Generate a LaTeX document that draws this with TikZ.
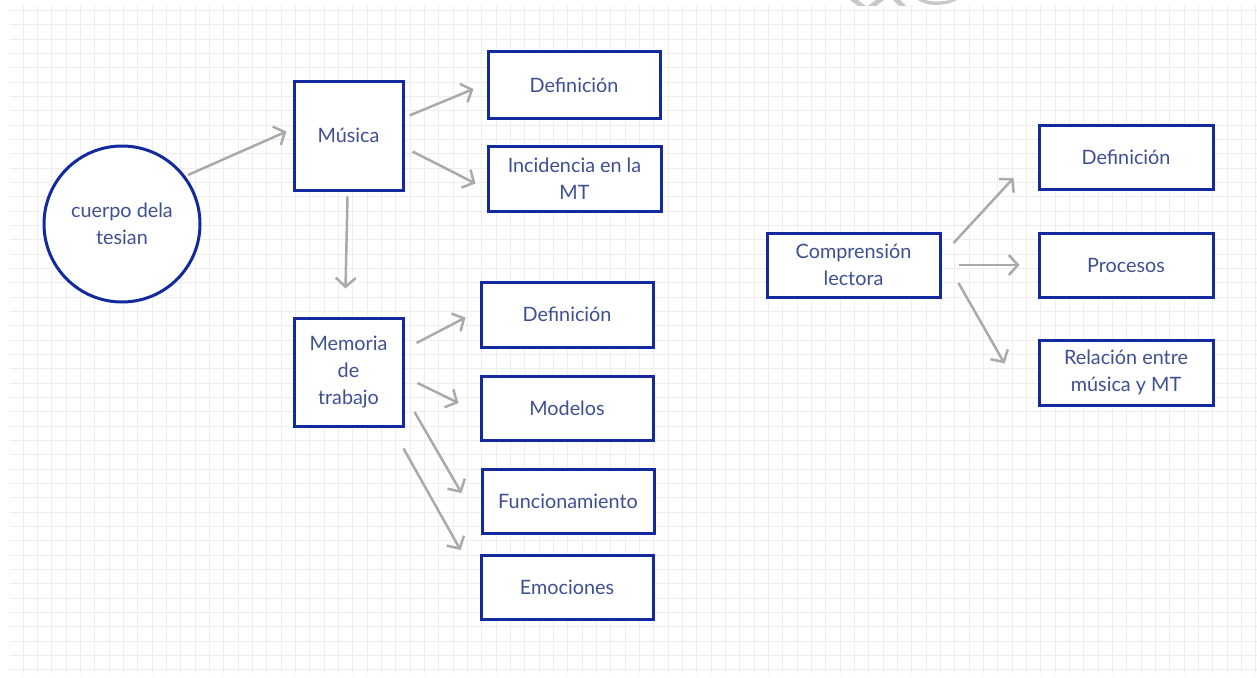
\documentclass[tikz,border=0pt]{standalone}
\usepackage{fontspec}
\setmainfont{Lato}
\usetikzlibrary{arrows.meta}
\definecolor{boxblue}{RGB}{18,42,158}
\definecolor{txtblue}{RGB}{62,80,145}
\definecolor{arrowgray}{RGB}{170,170,170}
\definecolor{gridgray}{RGB}{238,238,238}
\definecolor{markgray}{RGB}{200,200,200}
\begin{document}
\begin{tikzpicture}[x=1pt,y=-1pt,
  every node/.style={font=\fontsize{19.8}{27}\selectfont, text=txtblue, align=center},
  box/.style={draw=boxblue, line width=3pt, fill=white, inner sep=0pt},
  bubble/.style={draw=boxblue, line width=3pt, fill=white, circle, inner sep=0pt, minimum size=156pt},
  arr/.style={draw=arrowgray, line width=2.5pt, -{Straight Barb[length=9pt,width=20pt,line width=2.5pt]}}
]
\useasboundingbox (0,0) rectangle (1257,677);
\fill[white] (0,0) rectangle (1257,677);

% background grid
\begin{scope}
  \clip (10,6) rectangle (1257,672);
  \foreach \k in {0,...,86} \draw[gridgray, line width=1pt] (23.3+14.33*\k,0) -- (23.3+14.33*\k,677);
  \foreach \k in {0,...,46} \draw[gridgray, line width=1pt] (0,10.6+14.33*\k) -- (1257,10.6+14.33*\k);
\end{scope}

% faint mark along the top edge
\fill[markgray] (850,0) -- (858,0) -- (866,6) -- (858,6) -- cycle;
\fill[markgray] (876,0) -- (884,0) -- (876,6) -- (868,6) -- cycle;
\fill[markgray] (893,0) -- (900,0) -- (906,6) -- (899,6) -- cycle;
\fill[markgray] (918,0) .. controls (925,6) and (945,7) .. (957,0) -- (950,0) .. controls (942,2) and (930,2) .. (926,0) -- cycle;

% nodes
\node[bubble] (cuerpo) at (122,224) {cuerpo dela\\tesian};
\node[box, minimum width=109pt, minimum height=109pt] (musica) at (348.5,135.5) {Música};
\node[box, minimum width=172pt, minimum height=66pt] (def1) at (574,85) {Definición};
\node[box, minimum width=173pt, minimum height=65pt] (inc) at (574.5,178.5) {Incidencia en la\\MT};
\node[box, minimum width=109pt, minimum height=108pt] (mem) at (348.5,372) {Memoria\\de\\trabajo};
\node[box, minimum width=172pt, minimum height=65pt] (def2) at (567,314.5) {Definición};
\node[box, minimum width=172pt, minimum height=64pt] (mod) at (567,408) {Modelos};
\node[box, minimum width=172pt, minimum height=64pt] (fun) at (568,501) {Funcionamiento};
\node[box, minimum width=172pt, minimum height=64pt] (emo) at (567,587) {Emociones};
\node[box, minimum width=173pt, minimum height=64pt] (comp) at (853.5,265) {Comprensión\\lectora};
\node[box, minimum width=174pt, minimum height=64pt] (def3) at (1126,157) {Definición};
\node[box, minimum width=174pt, minimum height=64pt] (proc) at (1126,265) {Procesos};
\node[box, minimum width=174pt, minimum height=65pt] (rel) at (1126,372.5) {Relación entre\\música y MT};

% connectors
\draw[arr] ([shift={(66,-49)}]cuerpo.center) -- ([shift={(-6,-4)}]musica.west);
\draw[arr] ([shift={(-1,5)}]musica.south) -- ([shift={(-3,-28)}]mem.north);
\draw[arr] ([shift={(5,-20)}]musica.east) -- ([shift={(-13,4)}]def1.west);
\draw[arr] ([shift={(8,16)}]musica.east) -- ([shift={(-11,5)}]inc.west);
\draw[arr] ([shift={(12,-29)}]mem.east) -- ([shift={(-14,3)}]def2.west);
\draw[arr] ([shift={(13,11)}]mem.east) -- ([shift={(-21,-5)}]mod.west);
\draw[arr] ([shift={(10,40)}]mem.east) -- ([shift={(-19,-8)}]fun.west);
\draw[arr] ([shift={(-1,21)}]mem.south east) -- ([shift={(-19,-37)}]emo.west);
\draw[arr] ([shift={(12,-22)}]comp.east) -- ([shift={(-24,21)}]def3.west);
\draw[arr] ([shift={(17,0)}]comp.east) -- ([shift={(-18,0)}]proc.west);
\draw[arr] ([shift={(17,18)}]comp.east) -- ([shift={(-33,-9)}]rel.west);
\end{tikzpicture}
\end{document}
